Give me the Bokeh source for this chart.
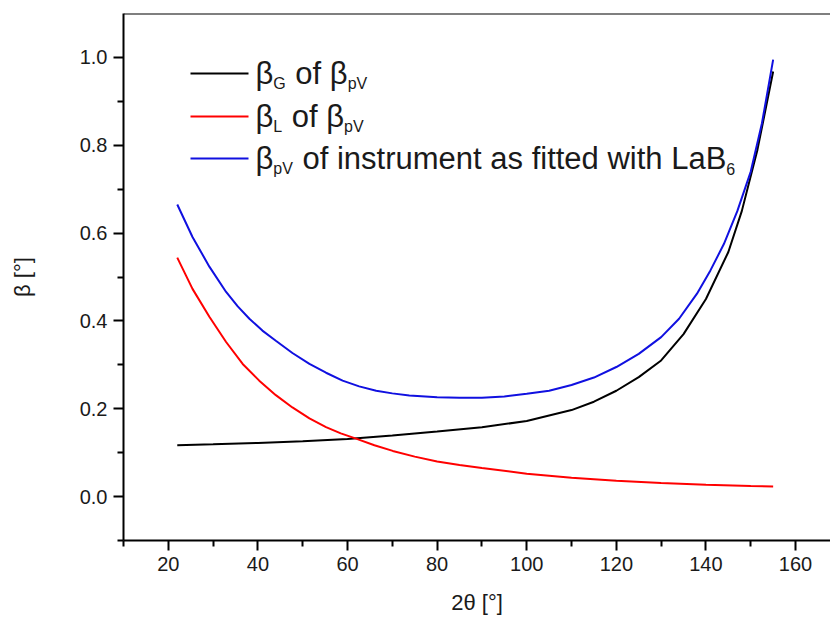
from bokeh.plotting import figure
from bokeh.models import FixedTicker, PrintfTickFormatter, Span, Label, Arrow
from bokeh.embed import file_html
from bokeh.resources import INLINE

# ---- data ----
x_black = [22, 30, 40, 50, 60, 70, 80, 90, 100, 110, 115, 120, 125, 130, 135, 140, 145, 148, 151.5, 155]
y_black = [0.117, 0.119, 0.122, 0.126, 0.131, 0.139, 0.148, 0.158, 0.172, 0.197, 0.216, 0.241, 0.272,
           0.310, 0.370, 0.450, 0.557, 0.650, 0.790, 0.968]

x_red = [22, 25.4, 29.2, 32.9, 36.6, 40.3, 44, 47.7, 51.5, 55.2, 58.5, 61.9, 66, 70.1, 75, 80, 85, 90,
         100, 110, 120, 130, 140, 150, 155]
y_red = [0.544, 0.473, 0.409, 0.352, 0.302, 0.264, 0.231, 0.203, 0.178, 0.158, 0.144, 0.132, 0.117,
         0.104, 0.091, 0.080, 0.072, 0.065, 0.052, 0.043, 0.036, 0.031, 0.027, 0.024, 0.023]

x_blue = [22, 25.4, 29.2, 32.9, 35.5, 38.1, 41, 44, 47.7, 51.5, 55.2, 58.9, 62.6, 66.4, 70, 73.8, 80,
          85, 90, 95, 100, 105, 110, 115, 120, 125, 130, 134, 138, 141, 144, 147, 150, 152.5, 155]
y_blue = [0.665, 0.591, 0.523, 0.466, 0.433, 0.405, 0.378, 0.355, 0.327, 0.302, 0.282, 0.264, 0.251,
          0.241, 0.235, 0.230, 0.226, 0.225, 0.225, 0.228, 0.234, 0.241, 0.254, 0.271, 0.295, 0.325,
          0.363, 0.405, 0.462, 0.515, 0.575, 0.650, 0.740, 0.850, 0.995]

x_ticks = [20, 40, 60, 80, 100, 120, 140, 160]
x_minor = [10, 30, 50, 70, 90, 110, 130, 150]
y_ticks = [0.0, 0.2, 0.4, 0.6, 0.8, 1.0]
y_minor = [-0.1, 0.1, 0.3, 0.5, 0.7, 0.9]

x_title = "2θ [°]"
y_title = "β [°]"

legend_rows = [
    ("black", [("β", False), ("G", True), (" of β", False), ("pV", True)]),
    ("#ff0000", [("β", False), ("L", True), (" of β", False), ("pV", True)]),
    ("#1010e0", [("β", False), ("pV", True), (" of instrument as fitted with LaB", False), ("6", True)]),
]

FONT = "Liberation Sans"

p = figure(width=830, height=621, x_range=(10, 167.8), y_range=(-0.1, 1.1),
           output_backend="svg", toolbar_location=None,
           min_border_left=123, min_border_right=0, min_border_top=13, min_border_bottom=81)
p.grid.visible = False
p.outline_line_color = None
p.background_fill_color = "white"
p.border_fill_color = "white"

for ax in (p.xaxis[0], p.yaxis[0]):
    ax.axis_line_width = 2
    ax.major_tick_line_width = 2
    ax.minor_tick_line_width = 2
    ax.major_tick_out = 10
    ax.major_tick_in = 0
    ax.minor_tick_out = 6
    ax.minor_tick_in = 0
    ax.major_label_text_font = FONT
    ax.major_label_text_font_size = "20px"
    ax.major_label_text_color = "#1a1a1a"
    ax.major_label_standoff = 6
    ax.axis_label_text_font = FONT
    ax.axis_label_text_font_style = "normal"
    ax.axis_label_text_font_size = "22px"
    ax.axis_label_text_color = "#1a1a1a"

p.xaxis.ticker = FixedTicker(ticks=x_ticks, minor_ticks=x_minor)
p.yaxis.ticker = FixedTicker(ticks=y_ticks, minor_ticks=y_minor)
p.yaxis.formatter = PrintfTickFormatter(format="%.1f")
p.xaxis.axis_label = x_title
p.yaxis.axis_label = y_title
p.xaxis.axis_label_standoff = 16
p.yaxis.axis_label_standoff = 42

p.add_layout(Span(location=1.1, dimension="width", line_color="black", line_width=2))

p.line(x_black, y_black, line_color="black", line_width=2)
p.line(x_red, y_red, line_color="#ff0000", line_width=2)
p.line(x_blue, y_blue, line_color="#1010e0", line_width=2)

# ---- manual legend (screen units relative to frame: x from left, y up from bottom) ----
W = {"β": 0.574, "G": 0.778, "L": 0.556, "p": 0.556, "V": 0.667, "6": 0.556, " ": 0.278,
     "o": 0.556, "f": 0.278, "i": 0.222, "n": 0.556, "s": 0.5, "t": 0.278, "r": 0.333,
     "u": 0.556, "m": 0.833, "e": 0.556, "a": 0.556, "d": 0.556, "w": 0.722, "h": 0.556, "B": 0.667}
MAIN, SUB = 31, 16
FRAME_H = 621 - 13 - 81
row_px = [73, 116, 158]
for (color, pieces), ry in zip(legend_rows, row_px):
    ys = FRAME_H - (ry - 13)
    p.add_layout(Arrow(end=None, x_start=67, y_start=ys, x_end=125, y_end=ys,
                       start_units="screen", end_units="screen",
                       line_color=color, line_width=2))
    cx = 132.0
    for txt, sub in pieces:
        size = SUB if sub else MAIN
        lead = txt.startswith(" ")
        t = txt.strip()
        if lead:
            cx += W[" "] * size
        base = ys if not sub else ys - 10
        p.add_layout(Label(x=cx, y=base, x_units="screen", y_units="screen", text=t,
                           text_font=FONT, text_font_size=f"{size}px", text_color="#1a1a1a",
                           text_baseline="alphabetic", text_align="left"))
        cx += sum(W.get(c, 0.55) for c in t) * size + (1 if sub else 0)

open("out.html", "w").write(file_html(p, INLINE))
